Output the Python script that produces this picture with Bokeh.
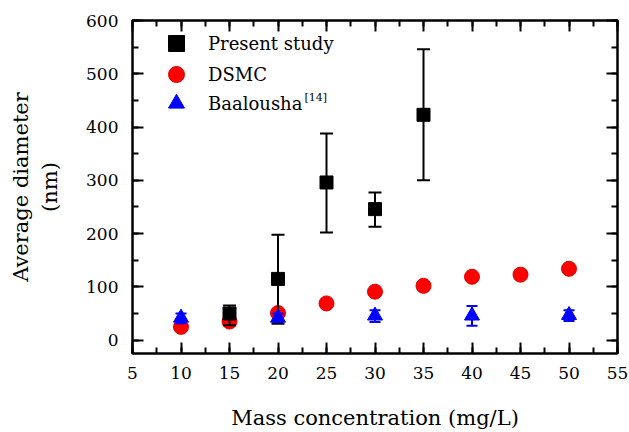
from bokeh.plotting import figure
from bokeh.models import (Range1d, LinearAxis, Legend, LegendItem, Label,
                          ColumnDataSource, SingleIntervalTicker, CustomJSTickFormatter)
from bokeh.embed import file_html
from bokeh.resources import INLINE

# ---- data ----
present_x = [15, 20, 25, 30, 35]
present_y = [50, 115, 296, 246, 423]
present_lo = [28, 31, 202, 213, 300]
present_hi = [65, 198, 388, 277, 546]

dsmc_x = [10, 15, 20, 25, 30, 35, 40, 45, 50]
dsmc_y = [25, 35, 51, 69, 91, 102, 119, 123, 134]

baal_x = [10, 20, 30, 40, 50]
baal_y = [42, 42, 46, 46, 47]
baal_lo = [32, 34, 34, 27, 36]
baal_hi = [50, 50, 56, 64, 56]

x_tick_step = 5
y_tick_step = 100

FONT = "DejaVu Serif"

p = figure(frame_width=485, frame_height=333, output_backend="svg",
           toolbar_location=None, x_range=Range1d(5, 55), y_range=Range1d(-25, 600),
           min_border_left=132, min_border_right=12, min_border_top=20,
           min_border_bottom=79, background_fill_color="white",
           border_fill_color="white", x_axis_label="Mass concentration (mg/L)",
           y_axis_label="Average diameter\n(nm)")
p.grid.visible = False
p.outline_line_color = "black"
p.outline_line_width = 2

top = LinearAxis(formatter=CustomJSTickFormatter(code="return ''"))
p.add_layout(top, "above")
right = LinearAxis(formatter=CustomJSTickFormatter(code="return ''"))
p.add_layout(right, "right")

xaxes = list(p.xaxis)
yaxes = list(p.yaxis)
for ax in xaxes + yaxes:
    is_x = ax in xaxes
    ax.ticker = SingleIntervalTicker(interval=x_tick_step if is_x else y_tick_step,
                                     num_minor_ticks=2)
    ax.major_tick_in = 11
    ax.major_tick_out = 0
    ax.minor_tick_in = 6
    ax.minor_tick_out = 0
    ax.major_tick_line_width = 2
    ax.minor_tick_line_width = 2
    ax.major_tick_line_color = "black"
    ax.minor_tick_line_color = "black"
    ax.axis_line_width = 2
    ax.axis_line_color = "black"
    ax.major_label_text_font = FONT
    ax.major_label_text_font_size = "17px"
    ax.major_label_text_color = "black"
    ax.axis_label_text_font = FONT
    ax.axis_label_text_font_size = "21px"
    ax.axis_label_text_font_style = "normal"
    ax.axis_label_text_color = "black"

for ax in (top, right):
    ax.major_label_standoff = 0

p.below[0].major_label_standoff = 13
p.below[0].axis_label_standoff = 24
p.left[0].major_label_standoff = 14
p.left[0].axis_label_standoff = 21

src_p = ColumnDataSource(dict(x=present_x, y=present_y, lo=present_lo, hi=present_hi))
src_d = ColumnDataSource(dict(x=dsmc_x, y=dsmc_y))
src_b = ColumnDataSource(dict(x=baal_x, y=baal_y, lo=baal_lo, hi=baal_hi))

r_d = p.scatter("x", "y", source=src_d, marker="circle", size=15,
                fill_color="#ff0000", line_color="#e00000", line_width=1)

p.segment("x", "lo", "x", "hi", source=src_p, line_color="black", line_width=2)
p.scatter("x", "lo", source=src_p, marker="dash", size=13, line_color="black", line_width=2)
p.scatter("x", "hi", source=src_p, marker="dash", size=13, line_color="black", line_width=2)
r_p = p.scatter("x", "y", source=src_p, marker="square", size=13,
                fill_color="black", line_color="black")

p.segment("x", "lo", "x", "hi", source=src_b, line_color="#0000ff", line_width=2)
p.scatter("x", "lo", source=src_b, marker="dash", size=11, line_color="#0000ff", line_width=2)
p.scatter("x", "hi", source=src_b, marker="dash", size=11, line_color="#0000ff", line_width=2)
r_b = p.scatter("x", "y", source=src_b, marker="triangle", size=15,
                fill_color="#0000ff", line_color="#0000ff")

# one legend per row so that rows can sit 30px apart with 40px glyph boxes
rows = [("Present study", r_p, 290), ("DSMC", r_d, 259), ("Baalousha", r_b, 230)]
for label, rend, ybot in rows:
    lg = Legend(items=[LegendItem(label=label, renderers=[rend])],
                location=(24, ybot), glyph_width=40, glyph_height=40,
                label_height=40, padding=0, margin=0,
                label_standoff=12, border_line_color=None,
                background_fill_alpha=0, label_text_font=FONT,
                label_text_font_size="18px", label_text_color="black")
    p.add_layout(lg, "center")

sup = Label(x=172, y=256, x_units="screen", y_units="screen", text="[14]",
            text_font=FONT, text_font_size="11px", text_baseline="middle",
            text_color="black")
p.add_layout(sup)

open("out.html", "w").write(file_html(p, INLINE))
